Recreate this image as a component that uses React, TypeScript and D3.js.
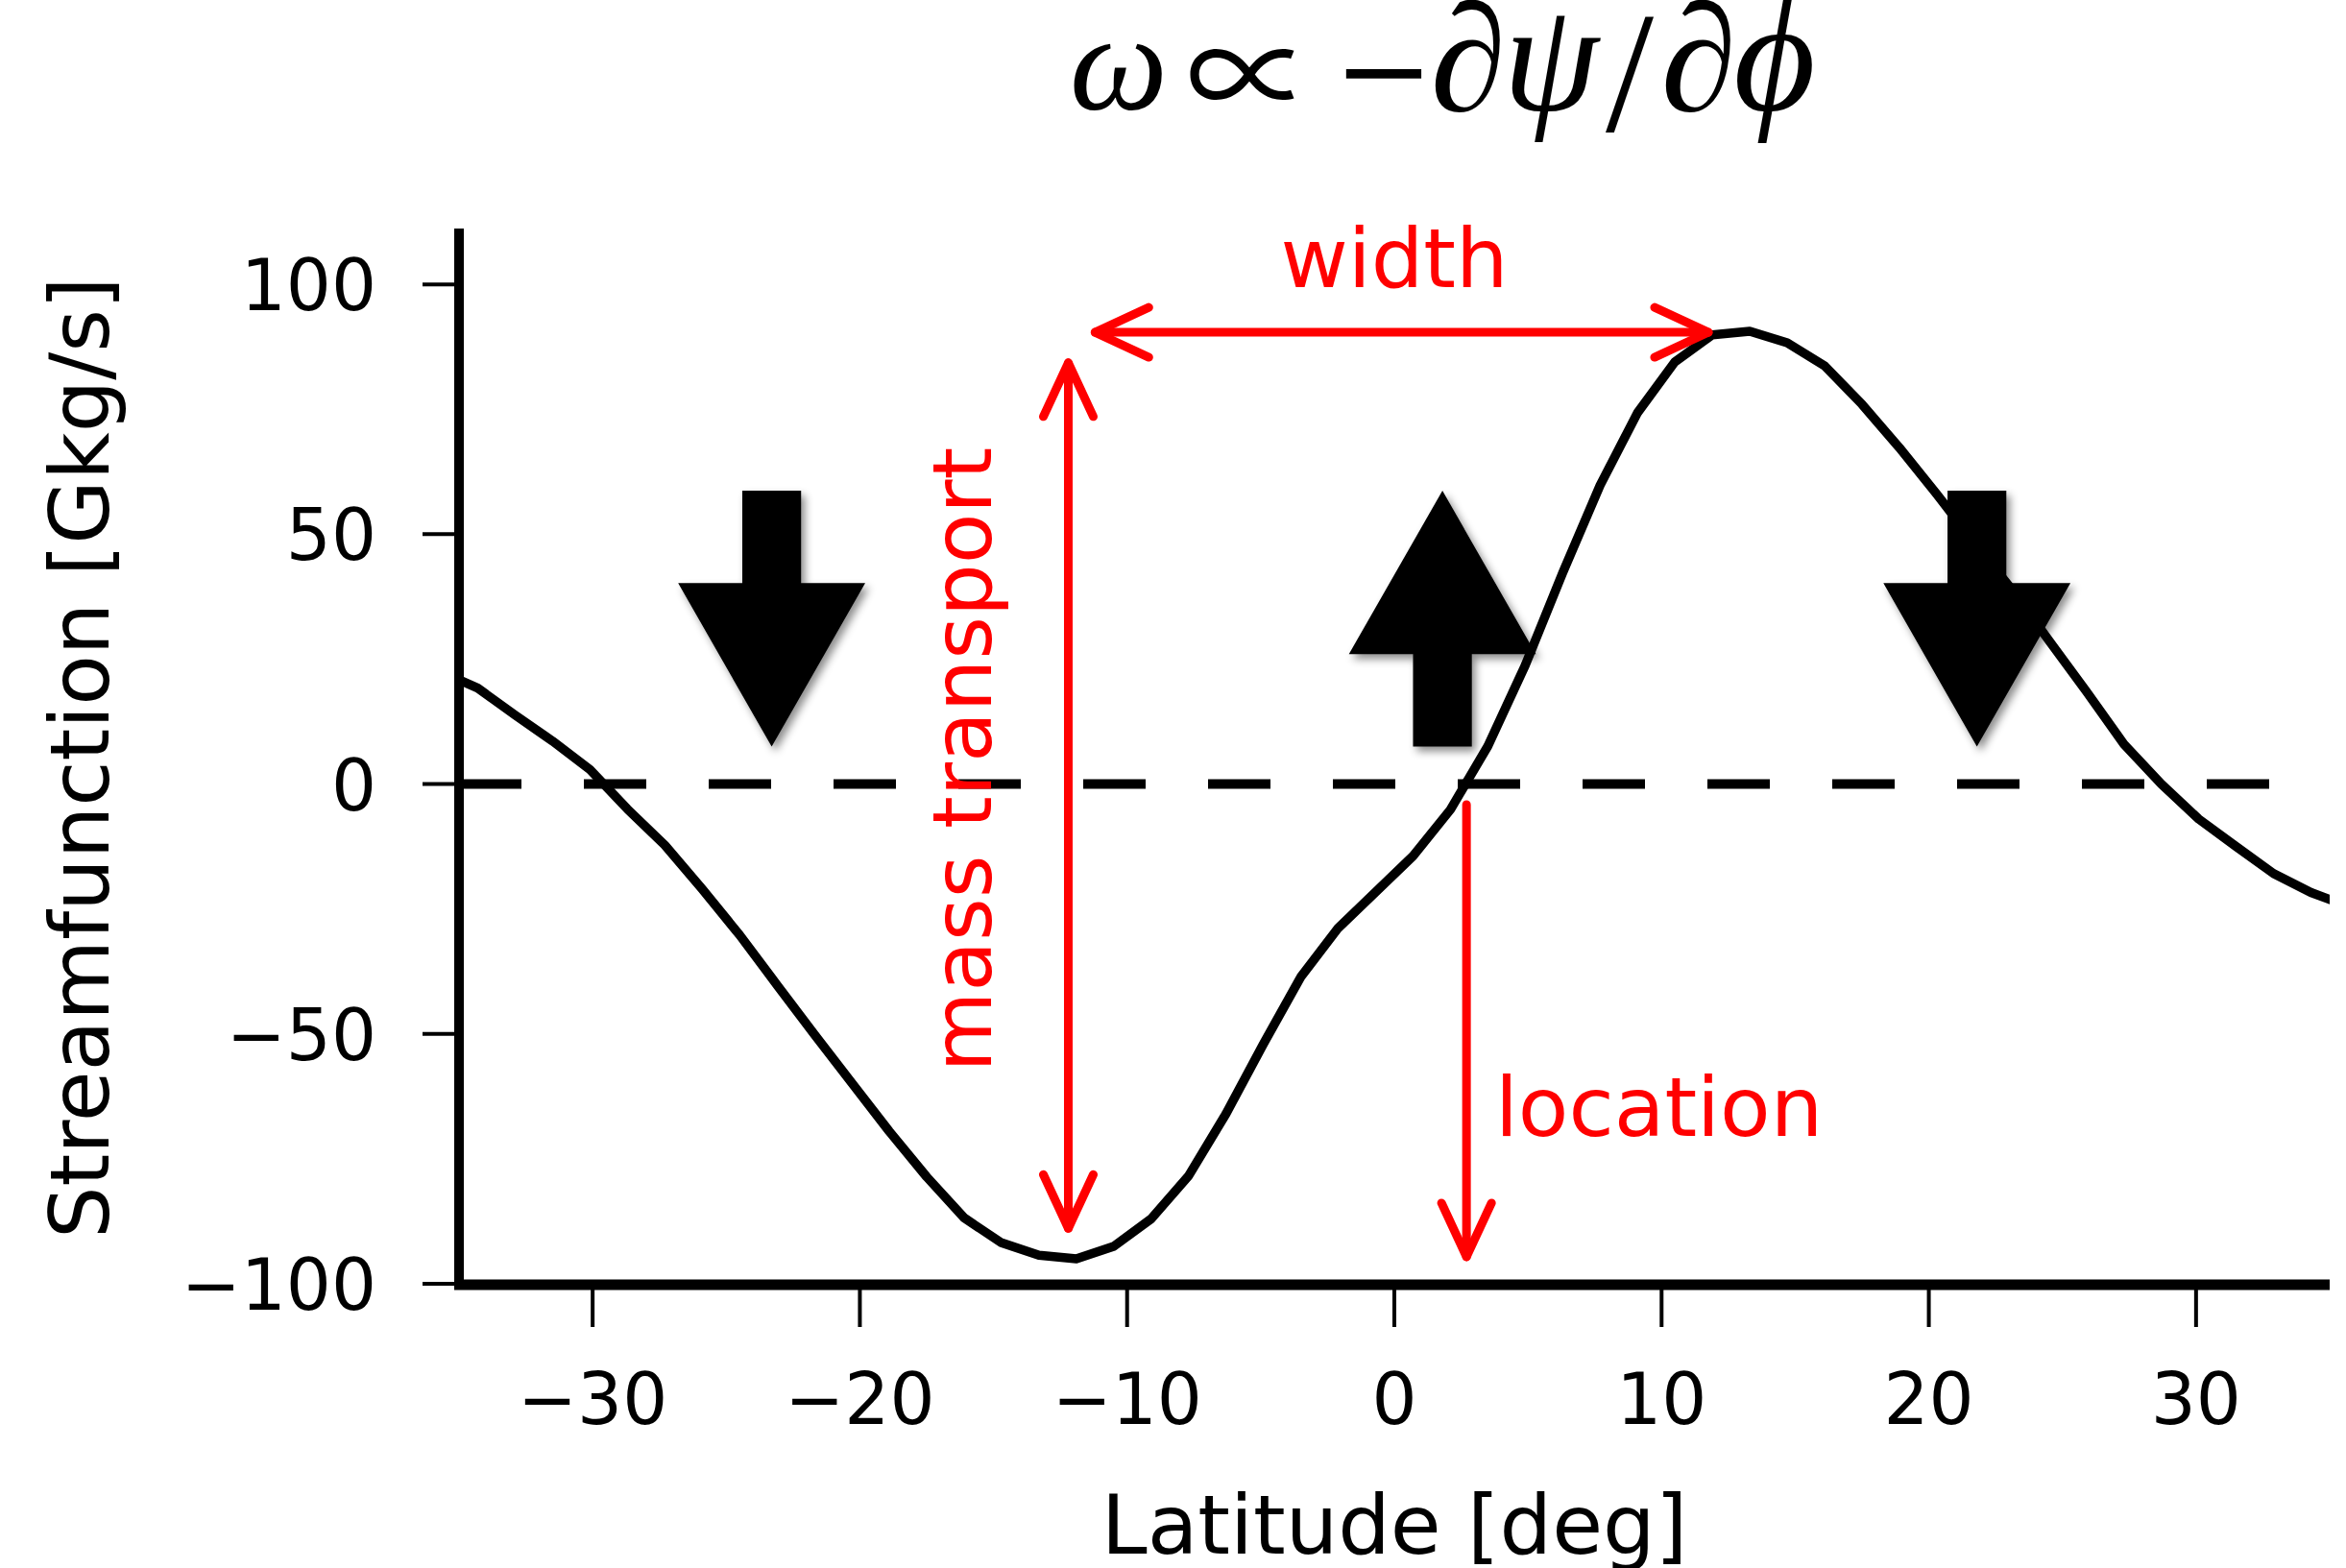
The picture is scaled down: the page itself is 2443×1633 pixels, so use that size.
import React from "react";
import * as d3 from "d3";

// streamfunction profile (T85-like 1.4 deg grid)
const latitude = [
  -35.7, -34.3, -32.9, -31.5, -30.1, -28.7, -27.3, -25.9, -24.5, -23.1, -21.7, -20.3, -18.9,
  -17.5, -16.1, -14.7, -13.3, -11.9, -10.5, -9.1, -7.7, -6.3, -4.9, -3.5, -2.1, -0.7,
  0.7, 2.1, 3.5, 4.9, 6.3, 7.7, 9.1, 10.5, 11.9, 13.3, 14.7, 16.1, 17.5, 18.9, 20.3,
  21.7, 23.1, 24.5, 25.9, 27.3, 28.7, 30.1, 31.5, 32.9, 34.3, 35.7,
];
const streamfunction = [
  22.5, 19.2, 13.8, 8.6, 2.9, -5.0, -12.2, -21.0, -30.2, -40.2, -50.1, -59.8, -69.5,
  -78.6, -86.8, -91.8, -94.3, -95.0, -92.5, -87.0, -78.4, -66.0, -52.0, -38.6, -28.8, -21.6,
  -14.4, -5.1, 7.6, 23.8, 42.3, 59.8, 74.3, 84.5, 89.9, 90.6, 88.3, 83.7, 76.0, 67.3, 58.0,
  48.3, 39.0, 28.7, 18.5, 8.0, 0.0, -7.0, -12.5, -17.9, -21.7, -24.5,
];

const xTicks = [-30, -20, -10, 0, 10, 20, 30];
const xTickLabels = ["\u221230", "\u221220", "\u221210", "0", "10", "20", "30"];
const yTicks = [-100, -50, 0, 50, 100];
const yTickLabels = ["\u2212100", "\u221250", "0", "50", "100"];

// big block arrows (subsidence / ascent)
const blockArrowLat = [-23.3, 1.8, 21.8];
const blockArrowTail = [58.7, 7.5, 58.7];
const blockArrowTip = [7.5, 58.7, 7.5];

const W = 2443;
const H = 1633;

const x = d3.scaleLinear().domain([-35, 35]).range([478, 2426]);
const y = d3.scaleLinear().domain([-100, 110.5]).range([1337, 241.5]);

const RED = "#ff0000";
const SANS = "DejaVu Sans, sans-serif";
const SERIF = "Liberation Serif, DejaVu Serif, serif";

// title glyphs: omega propto -d psi / d phi
const titleGlyphs = [
  { ch: "ω", cx: 1165, base: 114, size: 145, italic: true, font: SERIF },
  { ch: "∝", cx: 1301, base: 127, size: 132, italic: false, font: "Noto Sans CJK JP, DejaVu Serif, serif" },
  { ch: "−", cx: 1441, base: 116, size: 125, italic: false, font: "DejaVu Serif, serif" },
  { ch: "∂", cx: 1529, base: 115, size: 160, italic: true, font: SERIF },
  { ch: "ψ", cx: 1615, base: 114, size: 160, italic: true, font: SERIF },
  { ch: "/", cx: 1697, base: 136, size: 180, italic: false, font: SERIF },
  { ch: "∂", cx: 1769, base: 115, size: 160, italic: true, font: SERIF },
  { ch: "ϕ", cx: 1848, base: 114, size: 165, italic: true, font: SERIF },
];

function blockArrow(cx: number, tail: number, tip: number) {
  const px = x(cx);
  const yT = y(tail);
  const yP = y(tip);
  const dir = yP > yT ? 1 : -1;
  const headLen = y(0) - y(32.7);
  const sw = (x(2.2) - x(0)) / 2;
  const hw = (x(7.0) - x(0)) / 2;
  const base = yP - dir * headLen;
  return `M${px - sw},${yT}L${px + sw},${yT}L${px + sw},${base}L${px + hw},${base}L${px},${yP}L${px - hw},${base}L${px - sw},${base}Z`;
}

// open "->" head at (tx,ty) pointing along (dx,dy)
function head(tx: number, ty: number, dx: number, dy: number) {
  const len = Math.hypot(dx, dy);
  const ux = dx / len;
  const uy = dy / len;
  const back = 56;
  const side = 26;
  const bx = tx - ux * back;
  const by = ty - uy * back;
  return `M${bx - uy * side},${by + ux * side}L${tx},${ty}L${bx + uy * side},${by - ux * side}`;
}

export default function App() {
  const line = d3
    .line<number>()
    .x((_, i) => x(latitude[i]))
    .y((d) => y(d));

  // red annotations
  const wY = y(90.4);
  const wL = x(-11.2);
  const wR = x(11.75);
  const mX = x(-12.2);
  const mTop = y(84.3);
  const mBot = y(-88.9);
  const lX = x(2.7);
  const lTop = y(-4.1);
  const lBot = y(-94.6);

  return (
    <svg
      width={W}
      height={H}
      style={{ position: "absolute", left: 0, top: 0, background: "#fff" }}
    >
      <defs>
        <clipPath id="plot">
          <rect x={x(-35)} y={y(110.5)} width={x(35) - x(-35)} height={y(-100) - y(110.5)} />
        </clipPath>
        <filter id="shadow" x="-30%" y="-30%" width="170%" height="170%">
          <feDropShadow dx="4" dy="5" stdDeviation="4" floodColor="#000" floodOpacity="0.45" />
        </filter>
      </defs>
      <rect width={W} height={H} fill="#fff" />

      {/* title */}
      {titleGlyphs.map((g, i) => (
        <text
          key={i}
          x={g.cx}
          y={g.base}
          textAnchor="middle"
          fontFamily={g.font}
          fontSize={g.size}
          fontStyle={g.italic ? "italic" : "normal"}
          fill="#000"
        >
          {g.ch}
        </text>
      ))}

      {/* zero line */}
      <line
        x1={x(-35)}
        x2={x(35)}
        y1={y(0)}
        y2={y(0)}
        stroke="#000"
        strokeWidth={10}
        strokeDasharray="65 65"
      />

      {/* streamfunction */}
      <path
        d={line(streamfunction) || ""}
        fill="none"
        stroke="#000"
        strokeWidth={9.5}
        strokeLinejoin="round"
        clipPath="url(#plot)"
      />

      {/* red arrows */}
      <g fill="none" stroke={RED} strokeWidth={9} strokeLinecap="round" strokeLinejoin="round">
        <path d={`M${wL},${wY}L${wR},${wY}`} />
        <path d={head(wR, wY, 1, 0)} />
        <path d={head(wL, wY, -1, 0)} />
        <path d={`M${mX},${mTop}L${mX},${mBot}`} />
        <path d={head(mX, mTop, 0, -1)} />
        <path d={head(mX, mBot, 0, 1)} />
        <path d={`M${lX},${lTop}L${lX},${lBot}`} />
        <path d={head(lX, lBot, 0, 1)} />
      </g>

      {/* block arrows */}
      {blockArrowLat.map((lat, i) => (
        <path
          key={i}
          d={blockArrow(lat, blockArrowTail[i], blockArrowTip[i])}
          fill="#000"
          filter="url(#shadow)"
        />
      ))}

      {/* red labels */}
      <g fontFamily={SANS} fontSize={86} fill={RED}>
        <text x={x(0)} y={y(99.5)} textAnchor="middle">width</text>
        <text x={x(3.77)} y={y(-70.5)}>location</text>
        <text transform={`translate(${x(-15.1)},${y(4.9)}) rotate(-90)`} textAnchor="middle">
          mass transport
        </text>
      </g>

      {/* spines */}
      <line x1={x(-35)} x2={x(-35)} y1={238} y2={y(-100) + 6} stroke="#000" strokeWidth={10} />
      <line x1={x(-35) - 5} x2={x(35)} y1={y(-100) + 1} y2={y(-100) + 1} stroke="#000" strokeWidth={11} />

      {/* y ticks */}
      {yTicks.map((t, i) => (
        <g key={t}>
          <line x1={x(-35) - 38} x2={x(-35)} y1={y(t)} y2={y(t)} stroke="#000" strokeWidth={4} />
          <text
            x={392}
            y={y(t) + 27}
            textAnchor="end"
            fontFamily={SANS}
            fontSize={74}
            fill="#000"
          >
            {yTickLabels[i]}
          </text>
        </g>
      ))}

      {/* x ticks */}
      {xTicks.map((t, i) => (
        <g key={t}>
          <line x1={x(t)} x2={x(t)} y1={y(-100)} y2={y(-100) + 45} stroke="#000" strokeWidth={4} />
          <text
            x={x(t)}
            y={1483}
            textAnchor="middle"
            fontFamily={SANS}
            fontSize={74}
            fill="#000"
          >
            {xTickLabels[i]}
          </text>
        </g>
      ))}

      {/* axis labels */}
      <text
        x={(x(-35) + x(35)) / 2}
        y={1618}
        textAnchor="middle"
        fontFamily={SANS}
        fontSize={86}
        fill="#000"
      >
        Latitude [deg]
      </text>
      <text
        transform={`translate(113,${(y(-100) + y(110.5)) / 2}) rotate(-90)`}
        textAnchor="middle"
        fontFamily={SANS}
        fontSize={86}
        fill="#000"
      >
        Streamfunction [Gkg/s]
      </text>
    </svg>
  );
}
